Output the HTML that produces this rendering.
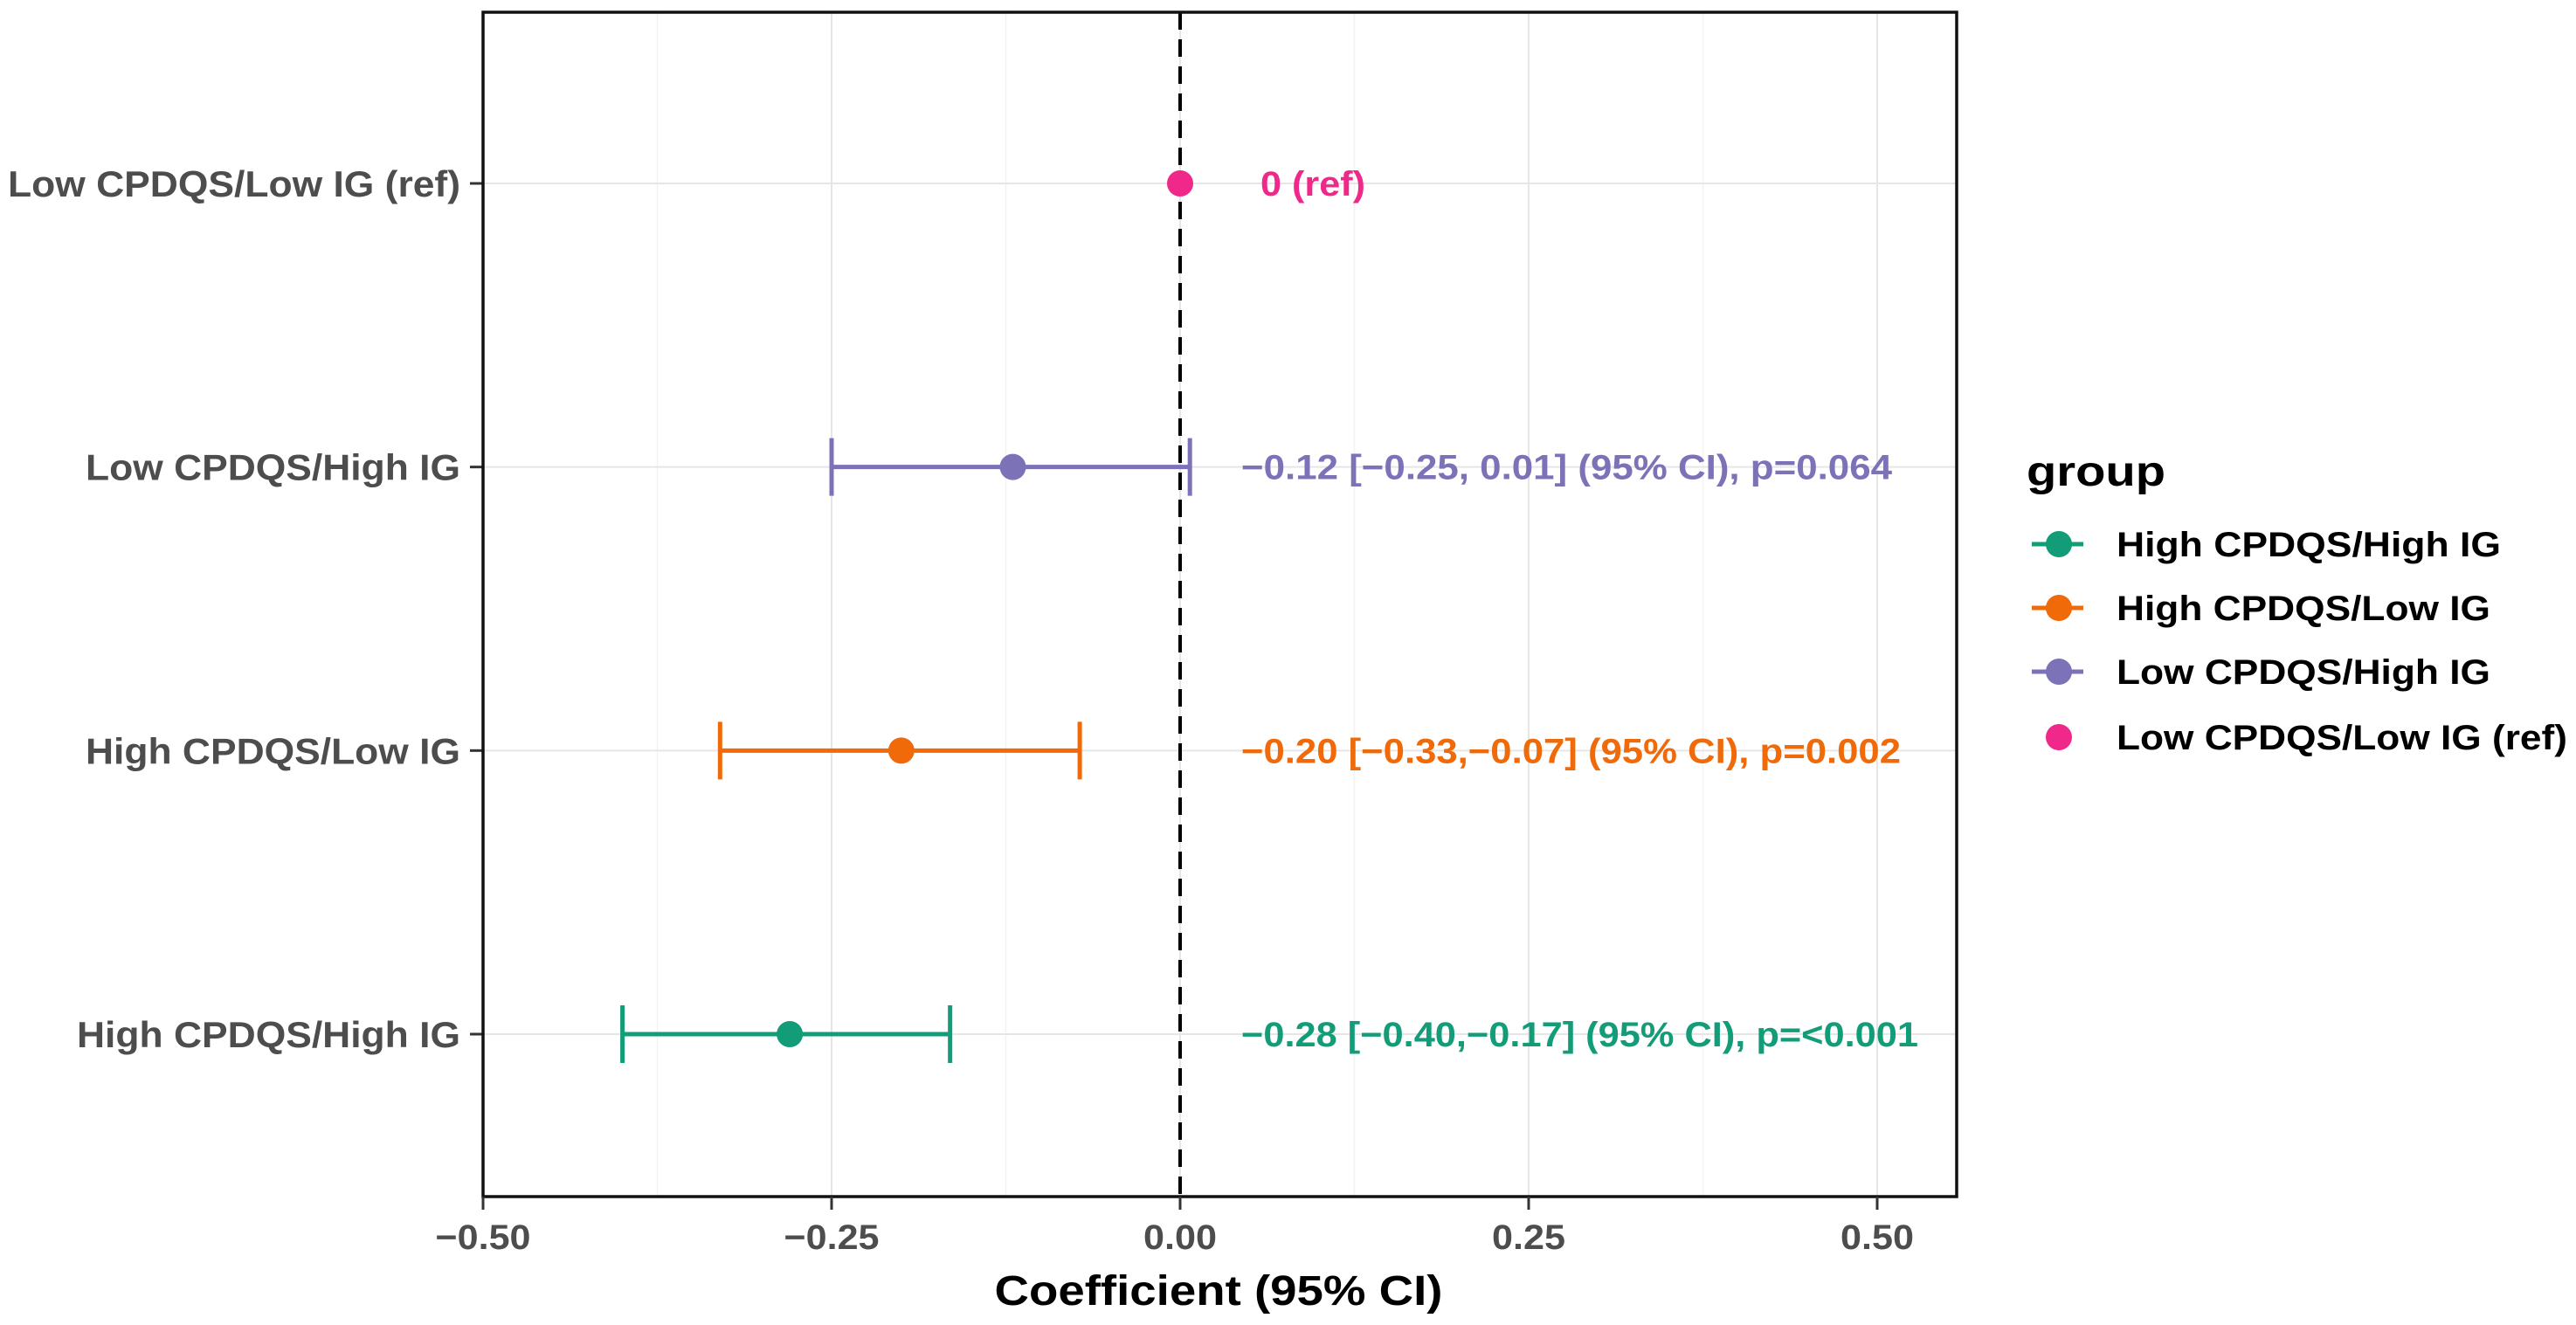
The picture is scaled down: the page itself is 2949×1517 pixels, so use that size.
<!DOCTYPE html>
<html><head><meta charset="utf-8"><style>
html,body{margin:0;padding:0;background:#fff;}
svg{display:block;font-family:"Liberation Sans",Arial,sans-serif;font-weight:bold;}
</style></head><body>
<svg id="chart" width="2949" height="1517" viewBox="0 0 2949 1517" xmlns="http://www.w3.org/2000/svg">
<g id="grid"></g>
<g id="marks"></g>
<g id="axes"></g>
<g id="legend"></g>
</svg>
<script>
const categories = ["High CPDQS/High IG","High CPDQS/Low IG","Low CPDQS/High IG","Low CPDQS/Low IG (ref)"];
const estimates = [-0.28,-0.20,-0.12,0];
const lowerCI = [-0.40,-0.33,-0.25,null];
const upperCI = [-0.165,-0.072,0.007,null];
const annotations = ["\u22120.28 [\u22120.40,\u22120.17] (95% CI), p=<0.001","\u22120.20 [\u22120.33,\u22120.07] (95% CI), p=0.002","\u22120.12 [\u22120.25, 0.01] (95% CI), p=0.064","0 (ref)"];
const annotationWidths = [775,755,745,120];
const colors = ["#129c78","#f06a0a","#7b72b8","#f0288a"];
const xTicks = [-0.5,-0.25,0,0.25,0.5];
const xTickLabels = ["\u22120.50","\u22120.25","0.00","0.25","0.50"];

const NS="http://www.w3.org/2000/svg";
const PL=553,PR=2240,PT=14,PB=1370;
const xs=v=>1351+(v-0)*1596;
const rowY=[1184,858,534,210];
const ys=i=>rowY[0]+(rowY[3]-rowY[0])*i/3;
const yLabelW=[439,429,429,518];
function mk(tag,attrs,parent){const e=document.createElementNS(NS,tag);for(const k in attrs)e.setAttribute(k,attrs[k]);parent.appendChild(e);return e;}
const grid=document.getElementById('grid'),marks=document.getElementById('marks'),axes=document.getElementById('axes'),legend=document.getElementById('legend');

for(let i=0;i<xTicks.length;i++){
  const l=mk('line',{x1:xs(xTicks[i]),x2:xs(xTicks[i]),y1:PT,y2:PB,stroke:'#e6e6e6','stroke-width':2},grid);
  
  
  if(i<xTicks.length-1){
    const m=(xTicks[i]+xTicks[i+1])/2;
    const l2=mk('line',{x1:xs(m),x2:xs(m),y1:PT,y2:PB,stroke:'#f3f3f3','stroke-width':1.5},grid);
    
    
  }
}
for(let i=0;i<categories.length;i++){
  const l=mk('line',{x1:PL,x2:PR,y1:ys(i),y2:ys(i),stroke:'#e6e6e6','stroke-width':2},grid);
  
  
}
const z=mk('line',{x1:xs(0),x2:xs(0),y1:PT,y2:PB,stroke:'#000','stroke-width':4,'stroke-dasharray':'20 11'},marks);



for(let i=0;i<categories.length;i++){
  const y=ys(i),c=colors[i];
  if(lowerCI[i]!==null){
    const g=mk('g',{},marks);
    
    
    mk('line',{x1:xs(lowerCI[i]),x2:xs(upperCI[i]),y1:y,y2:y,stroke:c,'stroke-width':5},g);
    mk('line',{x1:xs(lowerCI[i]),x2:xs(lowerCI[i]),y1:y-33,y2:y+33,stroke:c,'stroke-width':5},g);
    mk('line',{x1:xs(upperCI[i]),x2:xs(upperCI[i]),y1:y-33,y2:y+33,stroke:c,'stroke-width':5},g);
  }
  const p=mk('circle',{cx:xs(estimates[i]),cy:y,r:15,fill:c},marks);
  
  
  const t=mk('text',{x:i===3?1443:1421,y:y+14,fill:c,'font-size':40,textLength:annotationWidths[i],lengthAdjust:'spacingAndGlyphs'},marks);
  t.textContent=annotations[i];
  
  
  const yl=mk('text',{x:527,y:y+15,fill:'#4d4d4d','font-size':42,'text-anchor':'end',textLength:yLabelW[i],lengthAdjust:'spacingAndGlyphs'},axes);
  yl.textContent=categories[i];
  
  
  const yt=mk('line',{x1:538,x2:PL,y1:y,y2:y,stroke:'#333','stroke-width':3},axes);
  
  
}
const b=mk('rect',{x:PL,y:PT,width:PR-PL,height:PB-PT,fill:'none',stroke:'#111','stroke-width':3.5},axes);


for(let i=0;i<xTicks.length;i++){
  const t=mk('line',{x1:xs(xTicks[i]),x2:xs(xTicks[i]),y1:PB,y2:PB+15,stroke:'#333','stroke-width':3},axes);
  
  
  const l=mk('text',{x:xs(xTicks[i]),y:1430,fill:'#4d4d4d','font-size':40,'text-anchor':'middle',textLength:i>=2?84:109,lengthAdjust:'spacingAndGlyphs'},axes);
  l.textContent=xTickLabels[i];
  
  
}
const xt=mk('text',{x:1395,y:1494,fill:'#000','font-size':48,'text-anchor':'middle',textLength:513,lengthAdjust:'spacingAndGlyphs'},axes);
xt.textContent='Coefficient (95% CI)';



const lt=mk('text',{x:2320,y:556,fill:'#000','font-size':48,textLength:159,lengthAdjust:'spacingAndGlyphs'},legend);
lt.textContent='group';


const legY=[623,696,769,844];
const legW=[440,428,428,516];
for(let i=0;i<categories.length;i++){
  const g=mk('g',{},legend);
  
  
  if(i<3) mk('line',{x1:2326,x2:2385,y1:legY[i],y2:legY[i],stroke:colors[i],'stroke-width':5},g);
  mk('circle',{cx:2357,cy:legY[i],r:15,fill:colors[i]},g);
  const t=mk('text',{x:2423,y:legY[i]+14,fill:'#000','font-size':40,textLength:legW[i],lengthAdjust:'spacingAndGlyphs'},g);
  t.textContent=categories[i];
}
</script>
</body></html>
